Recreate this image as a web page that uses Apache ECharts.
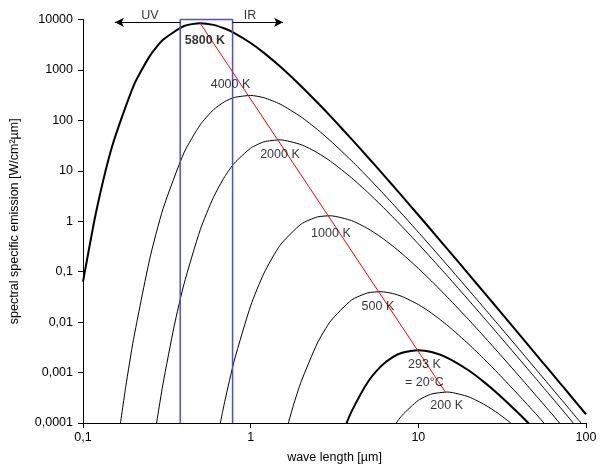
<!DOCTYPE html>
<html><head><meta charset="utf-8">
<script src="https://cdn.jsdelivr.net/npm/echarts@6/dist/echarts.min.js"></script>
<style>html,body{margin:0;padding:0;background:#fff}#c{width:603px;height:469px}</style>
</head><body><div id="c"></div>
<script>
// tick labels (decimal comma)
const xTicks = ['0,1', '1', '10', '100'];
const yTicks = ['0,0001', '0,001', '0,01', '0,1', '1', '10', '100', '1000', '10000'];

// curves: [wavelength µm, spectral emission W/cm²µm]
const T5800 = [[0.1,0.063],[0.12,1.58],[0.15,32.4],[0.2,480],[0.25,1880],[0.3,3950],[0.4,7420],[0.5,8440],[0.6,7830],[0.7,6620],[0.8,5380],[1,3420],[1.2,2180],[1.5,1166],[2,476],[2.5,226],[3,120],[4,42.5],[5,18.6],[6,9.4],[7,5.24],[8,3.14],[10,1.33],[12,0.655],[15,0.274],[20,0.0886],[25,0.0367],[30,0.0179],[40,0.00571],[50,0.00235],[60,0.00114],[70,0.000617],[80,0.000363],[100,0.000149]];
const T4000 = [[0.165,0.000072],[0.18,0.000532],[0.2,0.00451],[0.25,0.179],[0.3,1.756],[0.4,22.7],[0.5,81.7],[0.6,162.5],[0.7,235.7],[0.8,285],[1,312],[1.2,281.5],[1.5,210],[2,117],[2.5,65.9],[3,39],[4,15.8],[5,7.44],[6,3.93],[7,2.26],[8,1.39],[10,0.608],[12,0.306],[15,0.1308],[20,0.0432],[25,0.0181],[30,0.00888],[40,0.00287],[50,0.00119],[60,0.000578],[70,0.000314],[80,0.000185],[100,0.000076]];
const T2000 = [[0.27,0.00007],[0.3,0.000594],[0.35,0.00844],[0.4,0.0565],[0.5,0.675],[0.6,2.99],[0.7,7.66],[0.8,14.2],[1,28.1],[1.2,37.6],[1.5,41.1],[2,33],[2.5,22.9],[3,15.4],[4,7.25],[5,3.72],[6,2.08],[7,1.24],[8,0.783],[10,0.355],[12,0.183],[15,0.0801],[20,0.027],[25,0.01149],[30,0.00568],[40,0.001855],[50,0.000774],[60,0.000378],[70,0.000206],[80,0.000121],[90,0.000076]];
const T1000 = [[0.65,0.000079],[0.7,0.000264],[0.8,0.00177],[1,0.0211],[1.2,0.0933],[1.5,0.336],[2,0.879],[2.5,1.217],[3,1.283],[4,1.03],[5,0.714],[6,0.481],[7,0.327],[8,0.2266],[10,0.1163],[12,0.0649],[15,0.0306],[20,0.0111],[25,0.00493],[30,0.0025],[40,0.000844],[50,0.000359],[60,0.000178],[70,0.0000976],[80,0.000058]];
const T500 = [[1.65,0.000082],[1.8,0.000226],[2,0.00066],[2.5,0.00384],[3,0.01051],[4,0.02747],[5,0.03803],[6,0.0401],[7,0.0371],[8,0.0322],[10,0.0223],[12,0.01504],[15,0.00848],[20,0.003637],[25,0.001773],[30,0.000957],[40,0.000347],[50,0.000154],[60,0.000078]];
const T293 = [[3.6,0.000074],[4,0.00017],[5,0.00065],[6,0.001342],[7,0.002003],[8,0.00247],[10,0.00278],[12,0.00255],[15,0.00194],[20,0.001098],[25,0.000625],[30,0.000372],[40,0.0001514],[50,0.000072]];
const T200 = [[7.2,0.000089],[8,0.000142],[10,0.000281],[12,0.000376],[15,0.000411],[20,0.00033],[25,0.000228],[30,0.000154],[37,0.00009]];

const wienLine = [[0.5, 8440], [14.5, 0.00041]];
const visibleBand = [0.38, 0.78];
const bandY = [0.0001, 10000];
const arrowY = 8800;
const uvEnd = 0.155, irEnd = 1.56;

const labelTexts = ['5800 K', '4000 K', '2000 K', '1000 K', '500 K', '293 K', '= 20°C', '200 K', 'UV', 'IR'];
const labelAnchors = [[0.534,3830],[0.758,514],[1.495,20.6],[3.01,0.573],[5.74,0.0206],[10.87,0.00146],[10.87,0.000638],[14.75,0.000222],[0.251,12250],[0.99,12250]];

const FONT = '"Liberation Sans", Arial, sans-serif';
const curves = [
  {name:'5800 K', data:T5800, w:2},
  {name:'4000 K', data:T4000, w:1},
  {name:'2000 K', data:T2000, w:1},
  {name:'1000 K', data:T1000, w:1},
  {name:'500 K', data:T500, w:1},
  {name:'293 K', data:T293, w:2},
  {name:'200 K', data:T200, w:1}
];

function fmt(list, minExp) {
  return function (v) {
    const i = Math.round(Math.log10(v)) - minExp;
    return list[i] !== undefined ? list[i] : '';
  };
}

const series = curves.map(c => ({
  type: 'line', name: c.name, data: c.data, showSymbol: false, smooth: 0.2,
  clip: true, lineStyle: {color: '#000', width: c.w}, z: 2
}));

series.push({
  type: 'line', name: 'wien', data: wienLine, showSymbol: false,
  lineStyle: {color: '#ff0000', width: 1}, z: 3
});
series.push({
  type: 'line', name: 'visible', showSymbol: false, clip: false,
  data: [[visibleBand[0], bandY[0]], [visibleBand[0], bandY[1]], [visibleBand[1], bandY[1]], [visibleBand[1], bandY[0]]],
  lineStyle: {color: '#4a4aff', width: 1.5}, z: 4
});
series.push({
  type: 'line', name: 'arrows', data: [], z: 5,
  markLine: {
    silent: true, symbol: ['none', 'arrow'], symbolSize: [7, 9], animation: false,
    label: {show: false},
    lineStyle: {color: '#000', width: 1, type: 'solid'},
    data: [
      [{coord: [visibleBand[0], arrowY]}, {coord: [uvEnd, arrowY]}],
      [{coord: [visibleBand[1], arrowY]}, {coord: [irEnd, arrowY]}]
    ]
  }
});
series.push({
  type: 'scatter', name: 'labels', symbolSize: 0, clip: false, z: 6, silent: true,
  data: labelAnchors.map((p, i) => ({
    value: p,
    label: {show: true, position: 'inside', formatter: labelTexts[i], color: '#000',
      fontSize: 12.5, fontFamily: FONT, fontWeight: i === 0 ? 'bold' : 'normal'}
  }))
});

const chart = echarts.init(document.getElementById('c'), null, {renderer: 'canvas'});
chart.setOption({
  animation: false,
  backgroundColor: '#fff',
  grid: {left: 83, right: 17, top: 19.5, bottom: 43.3, containLabel: false},
  xAxis: {
    type: 'log', logBase: 10, min: 0.1, max: 100,
    axisLine: {show: true, onZero: false, lineStyle: {color: '#000', width: 1}},
    axisTick: {show: true, length: 5, lineStyle: {color: '#000'}},
    minorTick: {show: false}, splitLine: {show: false},
    axisLabel: {color: '#000', fontSize: 12.5, fontFamily: FONT, margin: 8, formatter: fmt(xTicks, -1)},
    name: 'wave length [µm]', nameLocation: 'middle', nameGap: 28,
    nameTextStyle: {color: '#000', fontSize: 12.5, fontFamily: FONT}
  },
  yAxis: {
    type: 'log', logBase: 10, min: 0.0001, max: 10000,
    axisLine: {show: true, onZero: false, lineStyle: {color: '#000', width: 1}},
    axisTick: {show: true, length: 5, lineStyle: {color: '#000'}},
    minorTick: {show: false}, splitLine: {show: false},
    axisLabel: {color: '#000', fontSize: 12.5, fontFamily: FONT, margin: 10, formatter: fmt(yTicks, -4)},
    name: 'spectral specific emission [W/cm²µm]', nameLocation: 'middle', nameGap: 62,
    nameTextStyle: {color: '#000', fontSize: 12.5, fontFamily: FONT}
  },
  series: series
});
</script>
</body></html>
